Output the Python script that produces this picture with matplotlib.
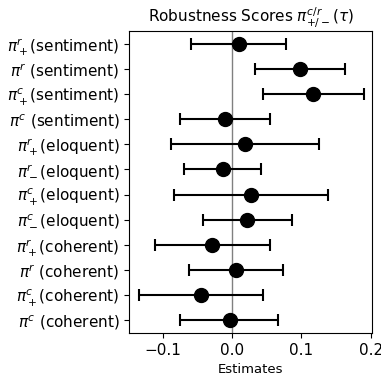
import numpy as np
import matplotlib
matplotlib.use("Agg")
import matplotlib.pyplot as plt

labels = [
    r"$\pi^r_+$(sentiment)",
    r"$\pi^r$ (sentiment)",
    r"$\pi^c_+$(sentiment)",
    r"$\pi^c$ (sentiment)",
    r"$\pi^r_+$(eloquent)",
    r"$\pi^r_-$(eloquent)",
    r"$\pi^c_+$(eloquent)",
    r"$\pi^c_-$(eloquent)",
    r"$\pi^r_+$(coherent)",
    r"$\pi^r$ (coherent)",
    r"$\pi^c_+$(coherent)",
    r"$\pi^c$ (coherent)",
]
estimates = [0.010, 0.098, 0.117, -0.011, 0.019, -0.013, 0.027, 0.022, -0.029, 0.006, -0.045, -0.003]
lower = [-0.060, 0.033, 0.045, -0.076, -0.088, -0.069, -0.084, -0.042, -0.112, -0.062, -0.134, -0.075]
upper = [0.078, 0.163, 0.190, 0.054, 0.126, 0.042, 0.139, 0.087, 0.054, 0.074, 0.044, 0.066]

est = np.array(estimates)
err = np.vstack([est - np.array(lower), np.array(upper) - est])
ypos = np.arange(len(labels))

fig = plt.figure(figsize=(3.81, 3.84), dpi=100)
ax = fig.add_axes([0.3386, 0.1328, 0.6378, 0.7865])

ax.axvline(0, color="gray", linewidth=1, zorder=1)
ax.errorbar(est, ypos, xerr=err, fmt="o", color="black", markersize=10,
            capsize=4, elinewidth=1.5, capthick=1.5, zorder=3)

ax.set_yticks(ypos)
ax.set_yticklabels(labels)
ax.set_ylim(11.5, -0.5)
ax.set_xlim(-0.149, 0.202)
ax.set_xticks([-0.1, 0.0, 0.1, 0.2])
ax.tick_params(labelsize=11)
ax.set_xlabel("Estimates", fontsize=9.5)
ax.set_title(r"Robustness Scores $\pi^{c/r}_{+/-}(\tau)$", fontsize=11)

fig.savefig("out.png", dpi=100)
